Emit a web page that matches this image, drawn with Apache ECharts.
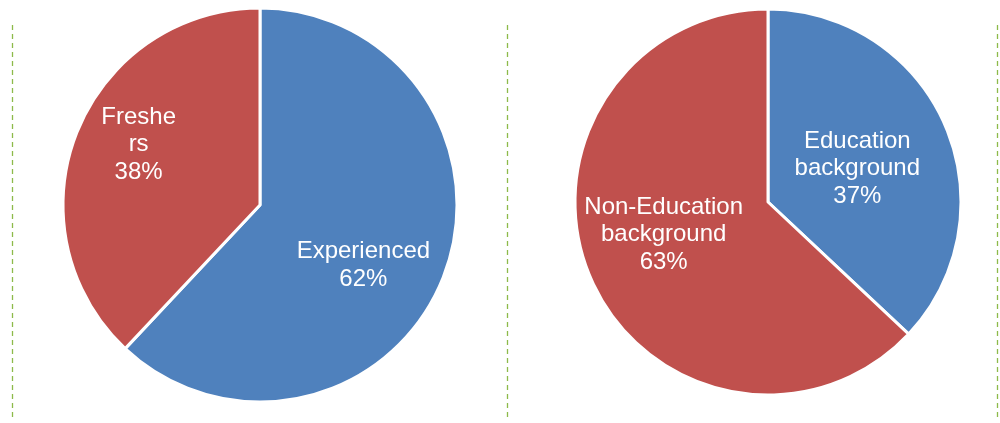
<!DOCTYPE html>
<html>
<head>
<meta charset="utf-8">
<script src="https://cdn.jsdelivr.net/npm/echarts@6/dist/echarts.min.js"></script>
<style>
html,body{margin:0;padding:0;background:#fff;}
#chart{width:1000px;height:423px;}
</style>
</head>
<body>
<div id="chart"></div>
<script>
// Data
const leftCategories = ['Experienced', 'Freshers'];
const leftValues = [62, 38];
const rightCategories = ['Education background', 'Non-Education background'];
const rightValues = [37, 63];
const sliceColors = ['#4F81BD', '#C0504D'];

const chart = echarts.init(document.getElementById('chart'));

const labelBase = {
  show: true,
  position: 'inside',
  color: '#ffffff',
  fontFamily: 'Liberation Sans, Arial, sans-serif',
  fontSize: 24,
  lineHeight: 27.5,
  align: 'center',
  formatter: p => p.name.replace(' ', '\n') + '\n' + p.percent + '%'
};

// label offsets (dx, dy) relative to default inside position
const leftOffsets = [[9, 23], [-27, -23]];
const rightOffsets = [[-2, 6], [-13, -7]];

function makeData(cats, vals, special) {
  return cats.map((c, i) => {
    const item = { name: c, value: vals[i], itemStyle: { color: sliceColors[i] } };
    if (special && special[i]) item.label = special[i];
    return item;
  });
}

const dashStyle = { stroke: '#8DBA4A', lineWidth: 1.3, lineDash: [5, 4] };

chart.setOption({
  animation: false,
  backgroundColor: '#ffffff',
  graphic: [
    { type: 'line', shape: { x1: 12.5, y1: 25, x2: 12.5, y2: 421 }, style: dashStyle },
    { type: 'line', shape: { x1: 507.5, y1: 25, x2: 507.5, y2: 421 }, style: dashStyle },
    { type: 'line', shape: { x1: 997.5, y1: 25, x2: 997.5, y2: 421 }, style: dashStyle }
  ],
  series: [
    {
      type: 'pie',
      center: [260, 205],
      radius: [0, 197],
      startAngle: 90,
      clockwise: true,
      itemStyle: { borderColor: '#ffffff', borderWidth: 3 },
      label: labelBase,
      labelLine: { show: false },
      emphasis: { disabled: true },
      labelLayout: p => ({ dx: leftOffsets[p.dataIndex][0], dy: leftOffsets[p.dataIndex][1] }),
      data: makeData(leftCategories, leftValues, [null, { width: 80, overflow: 'breakAll' }])
    },
    {
      type: 'pie',
      center: [768, 202],
      radius: [0, 193],
      startAngle: 90,
      clockwise: true,
      itemStyle: { borderColor: '#ffffff', borderWidth: 3 },
      label: labelBase,
      labelLine: { show: false },
      emphasis: { disabled: true },
      labelLayout: p => ({ dx: rightOffsets[p.dataIndex][0], dy: rightOffsets[p.dataIndex][1] }),
      data: makeData(rightCategories, rightValues)
    }
  ]
});
</script>
</body>
</html>
